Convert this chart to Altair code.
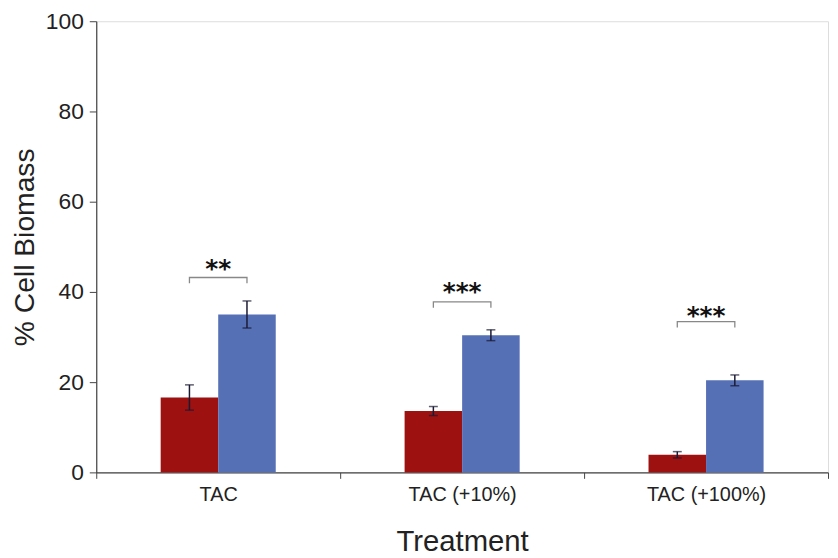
import altair as alt
import pandas as pd

treatments = ["TAC", "TAC (+10%)", "TAC (+100%)"]
groups = ["red", "blue"]
red_means = [16.6, 13.6, 3.9]
red_err = [2.8, 1.0, 0.7]
blue_means = [35.0, 30.4, 20.4]
blue_err = [3.0, 1.2, 1.2]
bracket_y = [43.2, 37.8, 33.4]
bracket_drop = 1.3
stars = ["**", "***", "***"]
star_y = [46.0, 40.9, 35.6]

rows = []
for i, t in enumerate(treatments):
    rows.append({"t": t, "g": "red", "v": red_means[i], "lo": red_means[i] - red_err[i], "hi": red_means[i] + red_err[i]})
    rows.append({"t": t, "g": "blue", "v": blue_means[i], "lo": blue_means[i] - blue_err[i], "hi": blue_means[i] + blue_err[i]})
df = pd.DataFrame(rows)

brows = []
for i, t in enumerate(treatments):
    y = bracket_y[i]
    brows += [
        {"t": t, "g": "red", "y": y - bracket_drop, "o": 0},
        {"t": t, "g": "red", "y": y, "o": 1},
        {"t": t, "g": "blue", "y": y, "o": 2},
        {"t": t, "g": "blue", "y": y - bracket_drop, "o": 3},
    ]
bdf = pd.DataFrame(brows)
sdf = pd.DataFrame({"t": treatments, "s": stars, "y": star_y})

font = "Liberation Sans"
offset_domain = ["_pad_l"] + groups + ["_pad_r"]
xs = alt.Scale(domain=treatments, paddingInner=0, paddingOuter=0)
xos = alt.Scale(domain=offset_domain, paddingInner=0, paddingOuter=0.12)
ys = alt.Scale(domain=[0, 100], nice=False)

x_enc = alt.X("t:N", scale=xs, sort=treatments, title="Treatment",
              axis=alt.Axis(labelAngle=0, tickBand="extent", tickSize=6, labelFontSize=20,
                            labelFont=font, labelColor="#222", labelPadding=6,
                            titleFontSize=29.5, titleFont=font, titleFontWeight="normal",
                            titleColor="#222", titlePadding=24, domainColor="#444", tickColor="#444",
                            domainWidth=1.2))
xo_enc = alt.XOffset("g:N", scale=xos)

bars = alt.Chart(df).mark_bar().encode(
    x=x_enc, xOffset=xo_enc,
    y=alt.Y("v:Q", scale=ys, title="% Cell Biomass",
            axis=alt.Axis(values=[0, 20, 40, 60, 80, 100], tickSize=7, labelFontSize=23,
                          labelFont=font, labelColor="#222", labelPadding=6,
                          titleFontSize=28.5, titleFont=font, titleFontWeight="normal",
                          titleColor="#222", titlePadding=6, domainColor="#444", tickColor="#444",
                          grid=False, domainWidth=1.2)),
    color=alt.Color("g:N", scale=alt.Scale(domain=groups, range=["#9e1111", "#5670b6"]), legend=None),
)

err = alt.Chart(df).mark_rule(color="#1a1a33", strokeWidth=1.5).encode(
    x=alt.X("t:N", scale=xs, sort=treatments), xOffset=xo_enc,
    y="lo:Q", y2="hi:Q",
)
cap_hi = alt.Chart(df).mark_tick(color="#1a1a33", thickness=1.5, size=9, orient="horizontal").encode(
    x=alt.X("t:N", scale=xs, sort=treatments), xOffset=xo_enc, y="hi:Q")
cap_lo = alt.Chart(df).mark_tick(color="#1a1a33", thickness=1.5, size=9, orient="horizontal").encode(
    x=alt.X("t:N", scale=xs, sort=treatments), xOffset=xo_enc, y="lo:Q")

brackets = alt.Chart(bdf).mark_line(color="#888", strokeWidth=1.3).encode(
    x=alt.X("t:N", scale=xs, sort=treatments), xOffset=xo_enc,
    y="y:Q", detail="t:N", order="o:Q",
)

star_text = alt.Chart(sdf).mark_text(fontSize=25, font="DejaVu Sans", fontWeight="bold", color="#111",
                                     baseline="middle", dy=4).encode(
    x=alt.X("t:N", scale=xs, sort=treatments), y="y:Q", text="s:N",
)

chart = alt.layer(bars, err, cap_hi, cap_lo, brackets, star_text).properties(
    width=738, height=455,
    autosize=alt.AutoSizeParams(type="none"),
    padding={"left": 89, "top": 11, "right": 2, "bottom": 84},
).configure_view(stroke=None).configure(background="white")

chart.save("out.html", embed_options={"renderer": "svg", "actions": False})
